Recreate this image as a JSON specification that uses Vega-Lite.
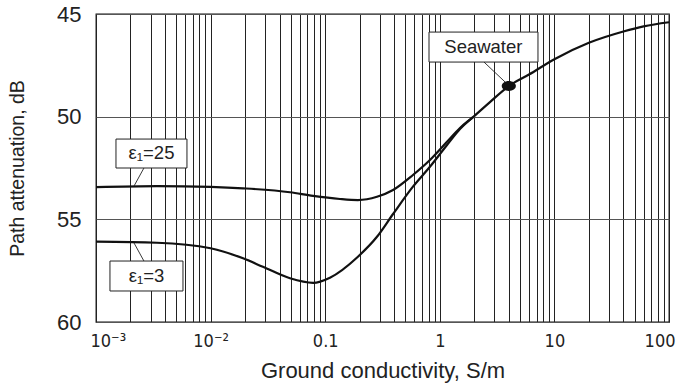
{
  "$schema": "https://vega.github.io/schema/vega-lite/v6.json",
  "width": 573,
  "height": 308,
  "autosize": "none",
  "padding": {"left": 96, "top": 14, "right": 9, "bottom": 68},
  "background": "white",
  "config": {
    "view": {"stroke": "#111", "strokeWidth": 1.3},
    "font": "Liberation Sans, Arial, sans-serif"
  },
  "datasets": {
    "curves": [
      {"series": "eps25", "sigma": 0.001, "dB": 53.43},
      {"series": "eps25", "sigma": 0.0034, "dB": 53.38},
      {"series": "eps25", "sigma": 0.01, "dB": 53.42},
      {"series": "eps25", "sigma": 0.0192, "dB": 53.49},
      {"series": "eps25", "sigma": 0.0493, "dB": 53.68},
      {"series": "eps25", "sigma": 0.0784, "dB": 53.86},
      {"series": "eps25", "sigma": 0.1346, "dB": 54.01},
      {"series": "eps25", "sigma": 0.193, "dB": 54.06},
      {"series": "eps25", "sigma": 0.283, "dB": 53.9},
      {"series": "eps25", "sigma": 0.391, "dB": 53.57},
      {"series": "eps25", "sigma": 0.583, "dB": 52.84},
      {"series": "eps25", "sigma": 0.82, "dB": 52.11},
      {"series": "eps25", "sigma": 1.156, "dB": 51.22},
      {"series": "eps25", "sigma": 1.5, "dB": 50.55},
      {"series": "eps25", "sigma": 1.95, "dB": 50.02},
      {"series": "eps25", "sigma": 2.74, "dB": 49.29},
      {"series": "eps25", "sigma": 4.0, "dB": 48.51},
      {"series": "eps25", "sigma": 6.0, "dB": 47.95},
      {"series": "eps25", "sigma": 10, "dB": 47.2},
      {"series": "eps25", "sigma": 20, "dB": 46.4},
      {"series": "eps25", "sigma": 40, "dB": 45.85},
      {"series": "eps25", "sigma": 60, "dB": 45.6},
      {"series": "eps25", "sigma": 100, "dB": 45.4},
      {"series": "eps3", "sigma": 0.001, "dB": 56.09},
      {"series": "eps3", "sigma": 0.0034, "dB": 56.14},
      {"series": "eps3", "sigma": 0.01, "dB": 56.41},
      {"series": "eps3", "sigma": 0.0192, "dB": 56.9},
      {"series": "eps3", "sigma": 0.0286, "dB": 57.31},
      {"series": "eps3", "sigma": 0.0493, "dB": 57.87},
      {"series": "eps3", "sigma": 0.0784, "dB": 58.09},
      {"series": "eps3", "sigma": 0.11, "dB": 57.84},
      {"series": "eps3", "sigma": 0.193, "dB": 56.82},
      {"series": "eps3", "sigma": 0.283, "dB": 55.85},
      {"series": "eps3", "sigma": 0.391, "dB": 54.74},
      {"series": "eps3", "sigma": 0.583, "dB": 53.41},
      {"series": "eps3", "sigma": 0.82, "dB": 52.44},
      {"series": "eps3", "sigma": 1.156, "dB": 51.38},
      {"series": "eps3", "sigma": 1.5, "dB": 50.6},
      {"series": "eps3", "sigma": 1.95, "dB": 50.02}
    ],
    "boxes": [
      {"label": "ε₁=25", "x1": 0.001494, "x2": 0.00622, "y1": 51.09, "y2": 52.5, "tx": 0.00305, "ty": 51.79},
      {"label": "ε₁=3", "x1": 0.001324, "x2": 0.00574, "y1": 57.03, "y2": 58.49, "tx": 0.00276, "ty": 57.76},
      {"label": "Seawater", "x1": 0.805, "x2": 7.19, "y1": 45.88, "y2": 47.34, "tx": 2.4, "ty": 46.61}
    ],
    "leaders": [
      {"x1": 0.00262, "y1": 52.5, "x2": 0.002146, "y2": 53.38},
      {"x1": 0.002146, "y1": 56.15, "x2": 0.00262, "y2": 57.03},
      {"x1": 2.43, "y1": 47.34, "x2": 3.71, "y2": 48.31}
    ],
    "dot": [
      {"sigma": 4.0, "dB": 48.51}
    ]
  },
  "layer": [
    {
      "data": {"name": "curves"},
      "mark": {"type": "line", "color": "#111", "strokeWidth": 2.2, "interpolate": "monotone"},
      "encoding": {
        "x": {
          "field": "sigma", "type": "quantitative",
          "scale": {"type": "log", "domain": [0.001, 100], "nice": false},
          "axis": {
            "values": [0.001,0.002,0.003,0.004,0.005,0.006,0.007,0.008,0.009,0.01,0.02,0.03,0.04,0.05,0.06,0.07,0.08,0.09,0.1,0.2,0.3,0.4,0.5,0.6,0.7,0.8,0.9,1,2,3,4,5,6,7,8,9,10,20,30,40,50,60,70,80,90,100],
            "grid": true, "gridColor": "#222", "gridWidth": 1, "gridOpacity": 1,
            "ticks": false, "domain": false,
            "labelExpr": "datum.value == 0.001 ? '10⁻³' : datum.value == 0.01 ? '10⁻²' : datum.value == 0.1 ? '0.1' : datum.value == 1 ? '1' : datum.value == 10 ? '10' : datum.value == 100 ? '100' : ''",
            "labelOverlap": false, "labelBound": false,
            "labelFlush": true, "labelFlushOffset": 6,
            "labelFont": "DejaVu Sans Condensed, Liberation Sans, sans-serif",
            "labelFontSize": 18, "labelColor": "#222", "labelPadding": 10,
            "title": "Ground conductivity, S/m", "titleFontSize": 22, "titleFontWeight": "normal", "titleColor": "#222", "titlePadding": 10
          }
        },
        "y": {
          "field": "dB", "type": "quantitative",
          "scale": {"domain": [45, 60], "reverse": true, "nice": false, "zero": false},
          "axis": {
            "values": [45, 50, 55, 60],
            "grid": true, "gridColor": "#555", "gridWidth": 1, "gridOpacity": 1,
            "ticks": false, "domain": false,
            "labelFontSize": 22, "labelColor": "#222", "labelPadding": 15,
            "title": "Path attenuation, dB", "titleFontSize": 19.5, "titleFontWeight": "normal", "titleColor": "#222", "titlePadding": 29
          }
        },
        "detail": {"field": "series"}
      }
    },
    {
      "data": {"name": "leaders"},
      "mark": {"type": "rule", "color": "#222", "strokeWidth": 0.9},
      "encoding": {
        "x": {"field": "x1", "type": "quantitative", "scale": {"type": "log", "domain": [0.001, 100], "nice": false}},
        "y": {"field": "y1", "type": "quantitative"},
        "x2": {"field": "x2"},
        "y2": {"field": "y2"}
      }
    },
    {
      "data": {"name": "boxes"},
      "mark": {"type": "rect", "fill": "white", "stroke": "#222", "strokeWidth": 1},
      "encoding": {
        "x": {"field": "x1", "type": "quantitative", "scale": {"type": "log", "domain": [0.001, 100], "nice": false}},
        "x2": {"field": "x2"},
        "y": {"field": "y1", "type": "quantitative"},
        "y2": {"field": "y2"}
      }
    },
    {
      "data": {"name": "boxes"},
      "mark": {"type": "text", "fontSize": 18.5, "color": "#222", "align": "center", "baseline": "middle"},
      "encoding": {
        "x": {"field": "tx", "type": "quantitative", "scale": {"type": "log", "domain": [0.001, 100], "nice": false}},
        "y": {"field": "ty", "type": "quantitative"},
        "text": {"field": "label"}
      }
    },
    {
      "data": {"name": "dot"},
      "mark": {"type": "point", "filled": true, "color": "#111", "opacity": 1, "size": 200, "shape": "M-1,0A1,0.7,0,1,1,1,0A1,0.7,0,1,1,-1,0Z"},
      "encoding": {
        "x": {"field": "sigma", "type": "quantitative", "scale": {"type": "log", "domain": [0.001, 100], "nice": false}},
        "y": {"field": "dB", "type": "quantitative"}
      }
    }
  ]
}
